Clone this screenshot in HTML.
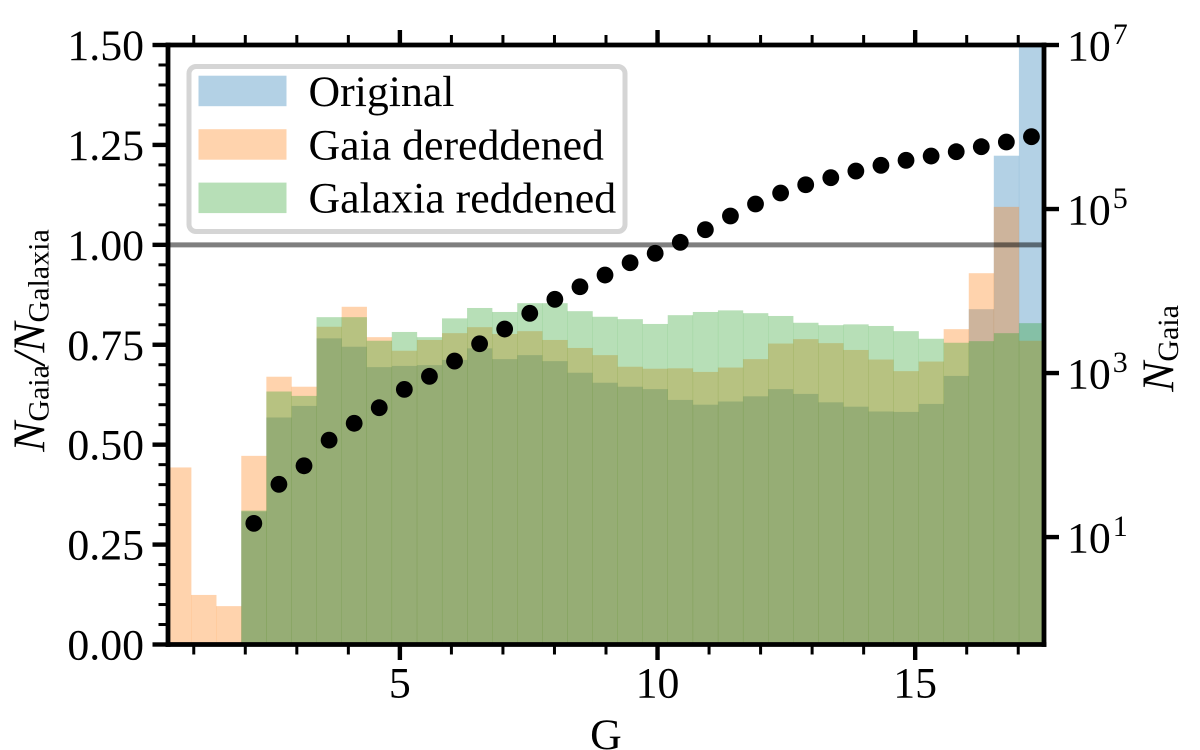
<!DOCTYPE html>
<html lang="en">
<head>
<meta charset="utf-8">
<title>NGaia / NGalaxia ratio vs G</title>
<style>
html,body{margin:0;padding:0;background:#fff;}
svg{display:block;}
text{font-family:"Liberation Serif","DejaVu Serif",serif;fill:#000;}
</style>
</head>
<body>
<svg id="chart" xmlns="http://www.w3.org/2000/svg" width="1200" height="750" viewBox="0 0 1200 750">
  <defs><clipPath id="plot-clip"><rect x="168" y="45" width="876" height="599.5"/></clipPath></defs>
  <rect x="0" y="0" width="1200" height="750" fill="#fff"/>
  <g id="bars" clip-path="url(#plot-clip)"></g>
  <line id="refline" stroke="#000" stroke-opacity="0.5" stroke-width="5"/>
  <g id="dots"></g>
  <g id="axes"></g>

  <g>
    <rect x="189" y="66.5" width="436" height="165" rx="7" ry="7" fill="#fff" stroke="#d5d5d5" stroke-width="5"/>
    <rect x="198.5" y="75.7" width="88" height="30.5" fill="#1f77b4" fill-opacity="0.34"/>
    <text x="308.5" y="106" font-size="43.8">Original</text>
    <rect x="198.5" y="129.2" width="88" height="30.5" fill="#ff7f0e" fill-opacity="0.34"/>
    <text x="308.5" y="159.3" font-size="43.8">Gaia dereddened</text>
    <rect x="198.5" y="182.6" width="88" height="30.5" fill="#2ca02c" fill-opacity="0.34"/>
    <text x="308.5" y="212.7" font-size="43.8">Galaxia reddened</text>
  </g>

  <text x="606" y="749" font-size="43.8" text-anchor="middle">G</text>
  <text transform="translate(44.3,451.7) rotate(-90)" font-size="45"><tspan font-style="italic">N</tspan><tspan font-size="30" dy="4.3">Gaia</tspan><tspan font-style="italic" dy="-4.3">/N</tspan><tspan font-size="30" dy="4.3">Galaxia</tspan></text>
  <text transform="translate(1173.5,391.7) rotate(-90)" font-size="45"><tspan font-style="italic">N</tspan><tspan font-size="30" dy="4.3">Gaia</tspan></text>
</svg>
<script>
const binEdges = [0.462,0.949,1.436,1.922,2.409,2.896,3.383,3.870,4.356,4.843,5.330,5.817,6.304,6.790,7.277,7.764,8.251,8.738,9.224,9.711,10.198,10.685,11.172,11.658,12.145,12.632,13.119,13.606,14.092,14.579,15.066,15.553,16.040,16.526,17.013,17.500];
const originalRatio = [null,null,null,0.333,0.568,0.597,0.766,0.745,0.694,0.697,0.699,0.712,0.741,0.714,0.724,0.709,0.680,0.655,0.645,0.639,0.612,0.600,0.608,0.621,0.639,0.627,0.606,0.595,0.583,0.582,0.602,0.672,0.839,1.223,1.600];
const gaiaDereddenedRatio = [0.443,0.124,0.096,0.472,0.670,0.645,0.795,0.845,0.769,0.735,0.762,0.779,0.794,0.777,0.784,0.762,0.742,0.724,0.695,0.690,0.691,0.682,0.693,0.714,0.753,0.764,0.754,0.737,0.713,0.684,0.708,0.789,0.929,1.095,0.760];
const galaxiaReddenedRatio = [null,null,null,0.335,0.633,0.622,0.819,0.819,0.760,0.782,0.769,0.816,0.842,0.832,0.854,0.854,0.834,0.820,0.814,0.802,0.824,0.832,0.836,0.829,0.822,0.805,0.799,0.801,0.797,0.784,0.765,0.755,0.759,0.779,0.804];
const gaiaCounts = [null,null,null,14.7,44,74,152,244,378,632,912,1400,2275,3440,5350,7925,11270,15670,22130,28840,39260,55980,82220,115080,156700,197700,241000,290400,341200,392600,442600,500000,575400,656100,762100];
const referenceRatio = [1.0];
const xMajorTicks = [5,10,15];
const xMinorTicks = [1,2,3,4,6,7,8,9,11,12,13,14,16,17];
const yLeftMajorTicks = ["0.00","0.25","0.50","0.75","1.00","1.25","1.50"];
const yLeftMinorTicks = [0.05,0.10,0.15,0.20,0.30,0.35,0.40,0.45,0.55,0.60,0.65,0.70,0.80,0.85,0.90,0.95,1.05,1.10,1.15,1.20,1.30,1.35,1.40,1.45];
const yRightExponents = [1,3,5,7];

const NS = 'http://www.w3.org/2000/svg';
const PLOT = {l:168, r:1044, t:45, b:644.5};
const xScale = v => PLOT.l + (v - 0.5) / 17 * (PLOT.r - PLOT.l);
const yScale = v => PLOT.b - v / 1.5 * (PLOT.b - PLOT.t);
const LOG_MIN = Math.log10(0.49);
const yLog = v => PLOT.b - (Math.log10(v) - LOG_MIN) / (7 - LOG_MIN) * (PLOT.b - PLOT.t);

function make(tag, parent, attrs) {
  const el = document.createElementNS(NS, tag);
  for (const k in attrs) el.setAttribute(k, attrs[k]);
  parent.appendChild(el);
  return el;
}

const barsGroup = document.getElementById('bars');
const dotsGroup = document.getElementById('dots');
const axesGroup = document.getElementById('axes');

function drawSeries(values, color, label) {
  values.forEach((v, i) => {
    if (v === null) return;
    const x0 = xScale(binEdges[i]);
    const x1 = xScale(binEdges[i + 1]);
    const rect = make('rect', barsGroup, {x: x0, y: yScale(v), width: x1 - x0 + 0.25, height: PLOT.b - yScale(v), fill: color, 'fill-opacity': 0.34});
    
    
  });
}
drawSeries(originalRatio, '#1f77b4', 'original');
drawSeries(gaiaDereddenedRatio, '#ff7f0e', 'gaia-dereddened');
drawSeries(galaxiaReddenedRatio, '#2ca02c', 'galaxia-reddened');

const refline = document.getElementById('refline');
refline.setAttribute('x1', PLOT.l);
refline.setAttribute('x2', PLOT.r);
refline.setAttribute('y1', yScale(referenceRatio[0]));
refline.setAttribute('y2', yScale(referenceRatio[0]));

gaiaCounts.forEach((c, i) => {
  if (c === null) return;
  const cx = xScale((binEdges[i] + binEdges[i + 1]) / 2);
  const dot = make('circle', dotsGroup, {cx: cx, cy: yLog(c), r: 8.4, fill: '#000'});
  
  
});

function tick(x1, y1, x2, y2, w, name) {
  const t = make('line', axesGroup, {x1: x1, y1: y1, x2: x2, y2: y2, stroke: '#000', 'stroke-width': w});
  
  
}
function spine(x1, y1, x2, y2, name) {
  const s = make('line', axesGroup, {x1: x1, y1: y1, x2: x2, y2: y2, stroke: '#000', 'stroke-width': 4.8, 'stroke-linecap': 'square'});
  
  
}

spine(PLOT.l, PLOT.t, PLOT.l, PLOT.b, 'left-spine');
spine(PLOT.r, PLOT.t, PLOT.r, PLOT.b, 'right-spine');
spine(PLOT.l, PLOT.t, PLOT.r, PLOT.t, 'top-spine');
spine(PLOT.l, PLOT.b, PLOT.r, PLOT.b, 'bottom-spine');

xMajorTicks.forEach(v => {
  const x = xScale(v);
  tick(x, PLOT.b, x, PLOT.b + 15.5, 4.4, 'x-major-tick');
  tick(x, PLOT.t, x, PLOT.t - 15, 4.4, 'top-major-tick');
  const lbl = make('text', axesGroup, {x: x, y: 697.5, 'font-size': 43.8, 'text-anchor': 'middle'});
  lbl.textContent = String(v);
  
  
});
xMinorTicks.forEach(v => {
  const x = xScale(v);
  tick(x, PLOT.b, x, PLOT.b + 10, 3, 'x-minor-tick');
  tick(x, PLOT.t, x, PLOT.t - 10, 3, 'top-minor-tick');
});
yLeftMajorTicks.forEach(s => {
  const y = yScale(parseFloat(s));
  tick(PLOT.l, y, PLOT.l - 15.5, y, 4.4, 'y-left-major-tick');
  const lbl = make('text', axesGroup, {x: 144, y: y + 15, 'font-size': 43.8, 'text-anchor': 'end'});
  lbl.textContent = s;
  
  
});
yLeftMinorTicks.forEach(v => {
  const y = yScale(v);
  tick(PLOT.l, y, PLOT.l - 9.5, y, 3, 'y-left-minor-tick');
});
yRightExponents.forEach(e => {
  const y = yLog(Math.pow(10, e));
  tick(PLOT.r, y, PLOT.r + 15, y, 4.4, 'y-right-major-tick');
  const lbl = make('text', axesGroup, {x: 1067, y: y + 15.5, 'font-size': 43.8});
  
  
  const base = make('tspan', lbl, {});
  base.textContent = '10';
  const sup = make('tspan', lbl, {'font-size': 30, dy: -16.7, dx: 2});
  sup.textContent = String(e);
});
</script>
</body>
</html>
